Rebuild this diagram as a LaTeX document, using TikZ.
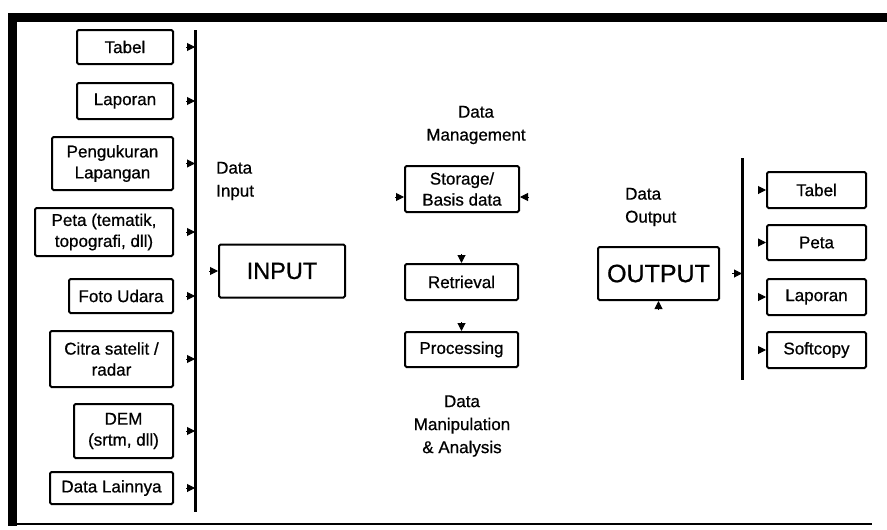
\documentclass[tikz,border=0pt]{standalone}
\usepackage{fontspec}
\setmainfont{Liberation Sans}[FakeBold=0.7]
\usetikzlibrary{arrows.meta}

\tikzset{
  box/.style={draw, line width=2pt, rounded corners=1.5pt, align=center, inner sep=1pt, font=\fontsize{17}{21}\selectfont},
  lbl/.style={inner sep=0pt, font=\fontsize{17}{23}\selectfont},
  arr/.style={-{Triangle[length=8pt,width=8pt]}, line width=1pt},
  bar/.style={line width=3pt},
}

\begin{document}
\begin{tikzpicture}[x=1pt, y=-1pt]
        \useasboundingbox (0,0) rectangle (887,530);

        % frame
        \draw[line width=9pt] (8,17.5) -- (887,17.5);
        \draw[line width=9pt] (12.5,13) -- (12.5,526);
        \draw[line width=2.5pt] (8,524) -- (872,524);

        % input sources
        \node[box, minimum width=96pt,  minimum height=34pt] (tabL)  at (125,47)    {Tabel};
        \node[box, minimum width=96pt,  minimum height=36pt] (lapL)  at (125,101)   {Laporan};
        \node[box, minimum width=121pt, minimum height=53pt] (ukur)  at (112.5,163.5) {Pengukuran\\Lapangan};
        \node[box, minimum width=138pt, minimum height=48pt] (peta)  at (104,232)   {Peta (tematik,\\topografi, dll)};
        \node[box, minimum width=104pt, minimum height=34pt] (foto)  at (121,296)   {Foto Udara};
        \node[box, minimum width=123pt, minimum height=56pt] (citra) at (111.5,359) {Citra satelit /\\radar};
        \node[box, minimum width=99pt,  minimum height=54pt] (dem)   at (123.5,431) {DEM\\(srtm, dll)};
        \node[box, minimum width=123pt, minimum height=32pt] (lain)  at (111.5,488) {Data Lainnya};

        \coordinate (barLtop) at (195,30);
        \coordinate (barLbot) at (195,512);
        \draw[bar] (barLtop) -- (barLbot);

        \draw[arr] ([xshift=-9pt]barLtop |- tabL)  -- (barLtop |- tabL);
        \draw[arr] ([xshift=-9pt]barLtop |- lapL)  -- (barLtop |- lapL);
        \draw[arr] ([xshift=-9pt]barLtop |- ukur)  -- (barLtop |- ukur);
        \draw[arr] ([xshift=-9pt]barLtop |- peta)  -- (barLtop |- peta);
        \draw[arr] ([xshift=-9pt]barLtop |- foto)  -- (barLtop |- foto);
        \draw[arr] ([xshift=-9pt]barLtop |- citra) -- (barLtop |- citra);
        \draw[arr] ([xshift=-9pt]barLtop |- dem)   -- (barLtop |- dem);
        \draw[arr] ([xshift=-9pt]barLtop |- lain)  -- (barLtop |- lain);

        % input
        \node[lbl, anchor=west, align=left] (lblin) at (216,181) {Data\\Input};
        \node[box, minimum width=126pt, minimum height=53pt, font=\fontsize{23.5}{28}\selectfont] (inp) at (282,271) {INPUT};
        \draw[arr] ([xshift=-9pt]inp.west) -- (inp.west);

        % data management
        \node[lbl, align=center] (lblman) at (476,125) {Data\\Management};
        \node[box, minimum width=114pt, minimum height=46pt] (store) at (462,189) {Storage/\\Basis data};
        \node[box, minimum width=113pt, minimum height=36pt] (retr)  at (461.5,282)   {Retrieval};
        \node[box, minimum width=113pt, minimum height=35pt] (proc)  at (461.5,349.5) {Processing};
        \draw[arr] ([shift={(-9pt,-8pt)}]store.west) -- ([yshift=-8pt]store.west);
        \draw[arr] ([shift={(9pt,-8pt)}]store.east)  -- ([yshift=-8pt]store.east);
        \draw[arr] ([yshift=9pt]retr.north) -- (retr.north);
        \draw[arr] ([yshift=9pt]proc.north) -- (proc.north);
        \node[lbl, align=center] (lblproc) at (462,426) {Data\\Manipulation\\\&\ Analysis};

        % output
        \node[lbl, anchor=west, align=left] (lblout) at (625,207) {Data\\Output};
        \node[box, minimum width=121pt, minimum height=53pt, font=\fontsize{25}{30}\selectfont] (outp) at (658.5,273.5) {OUTPUT};
        \draw[arr] ([yshift=-9pt]outp.south) -- (outp.south);

        \coordinate (barRtop) at (742,158);
        \coordinate (barRbot) at (742,380);
        \draw[bar] (barRtop) -- (barRbot);
        \draw[arr] ([xshift=-10pt]barRtop |- outp) -- (barRtop |- outp);

        \node[box, minimum width=99pt, minimum height=36pt] (tabR)  at (816.5,190)   {Tabel};
        \node[box, minimum width=99pt, minimum height=35pt] (petaR) at (816.5,242.5) {Peta};
        \node[box, minimum width=99pt, minimum height=36pt] (lapR)  at (816.5,297)   {Laporan};
        \node[box, minimum width=99pt, minimum height=36pt] (soft)  at (816.5,350)   {Softcopy};

        \draw[arr] ([xshift=-8pt]tabR.west)  -- (tabR.west);
        \draw[arr] ([xshift=-8pt]petaR.west) -- (petaR.west);
        \draw[arr] ([xshift=-8pt]lapR.west)  -- (lapR.west);
        \draw[arr] ([xshift=-8pt]soft.west)  -- (soft.west);

    \end{tikzpicture}
\end{document}
